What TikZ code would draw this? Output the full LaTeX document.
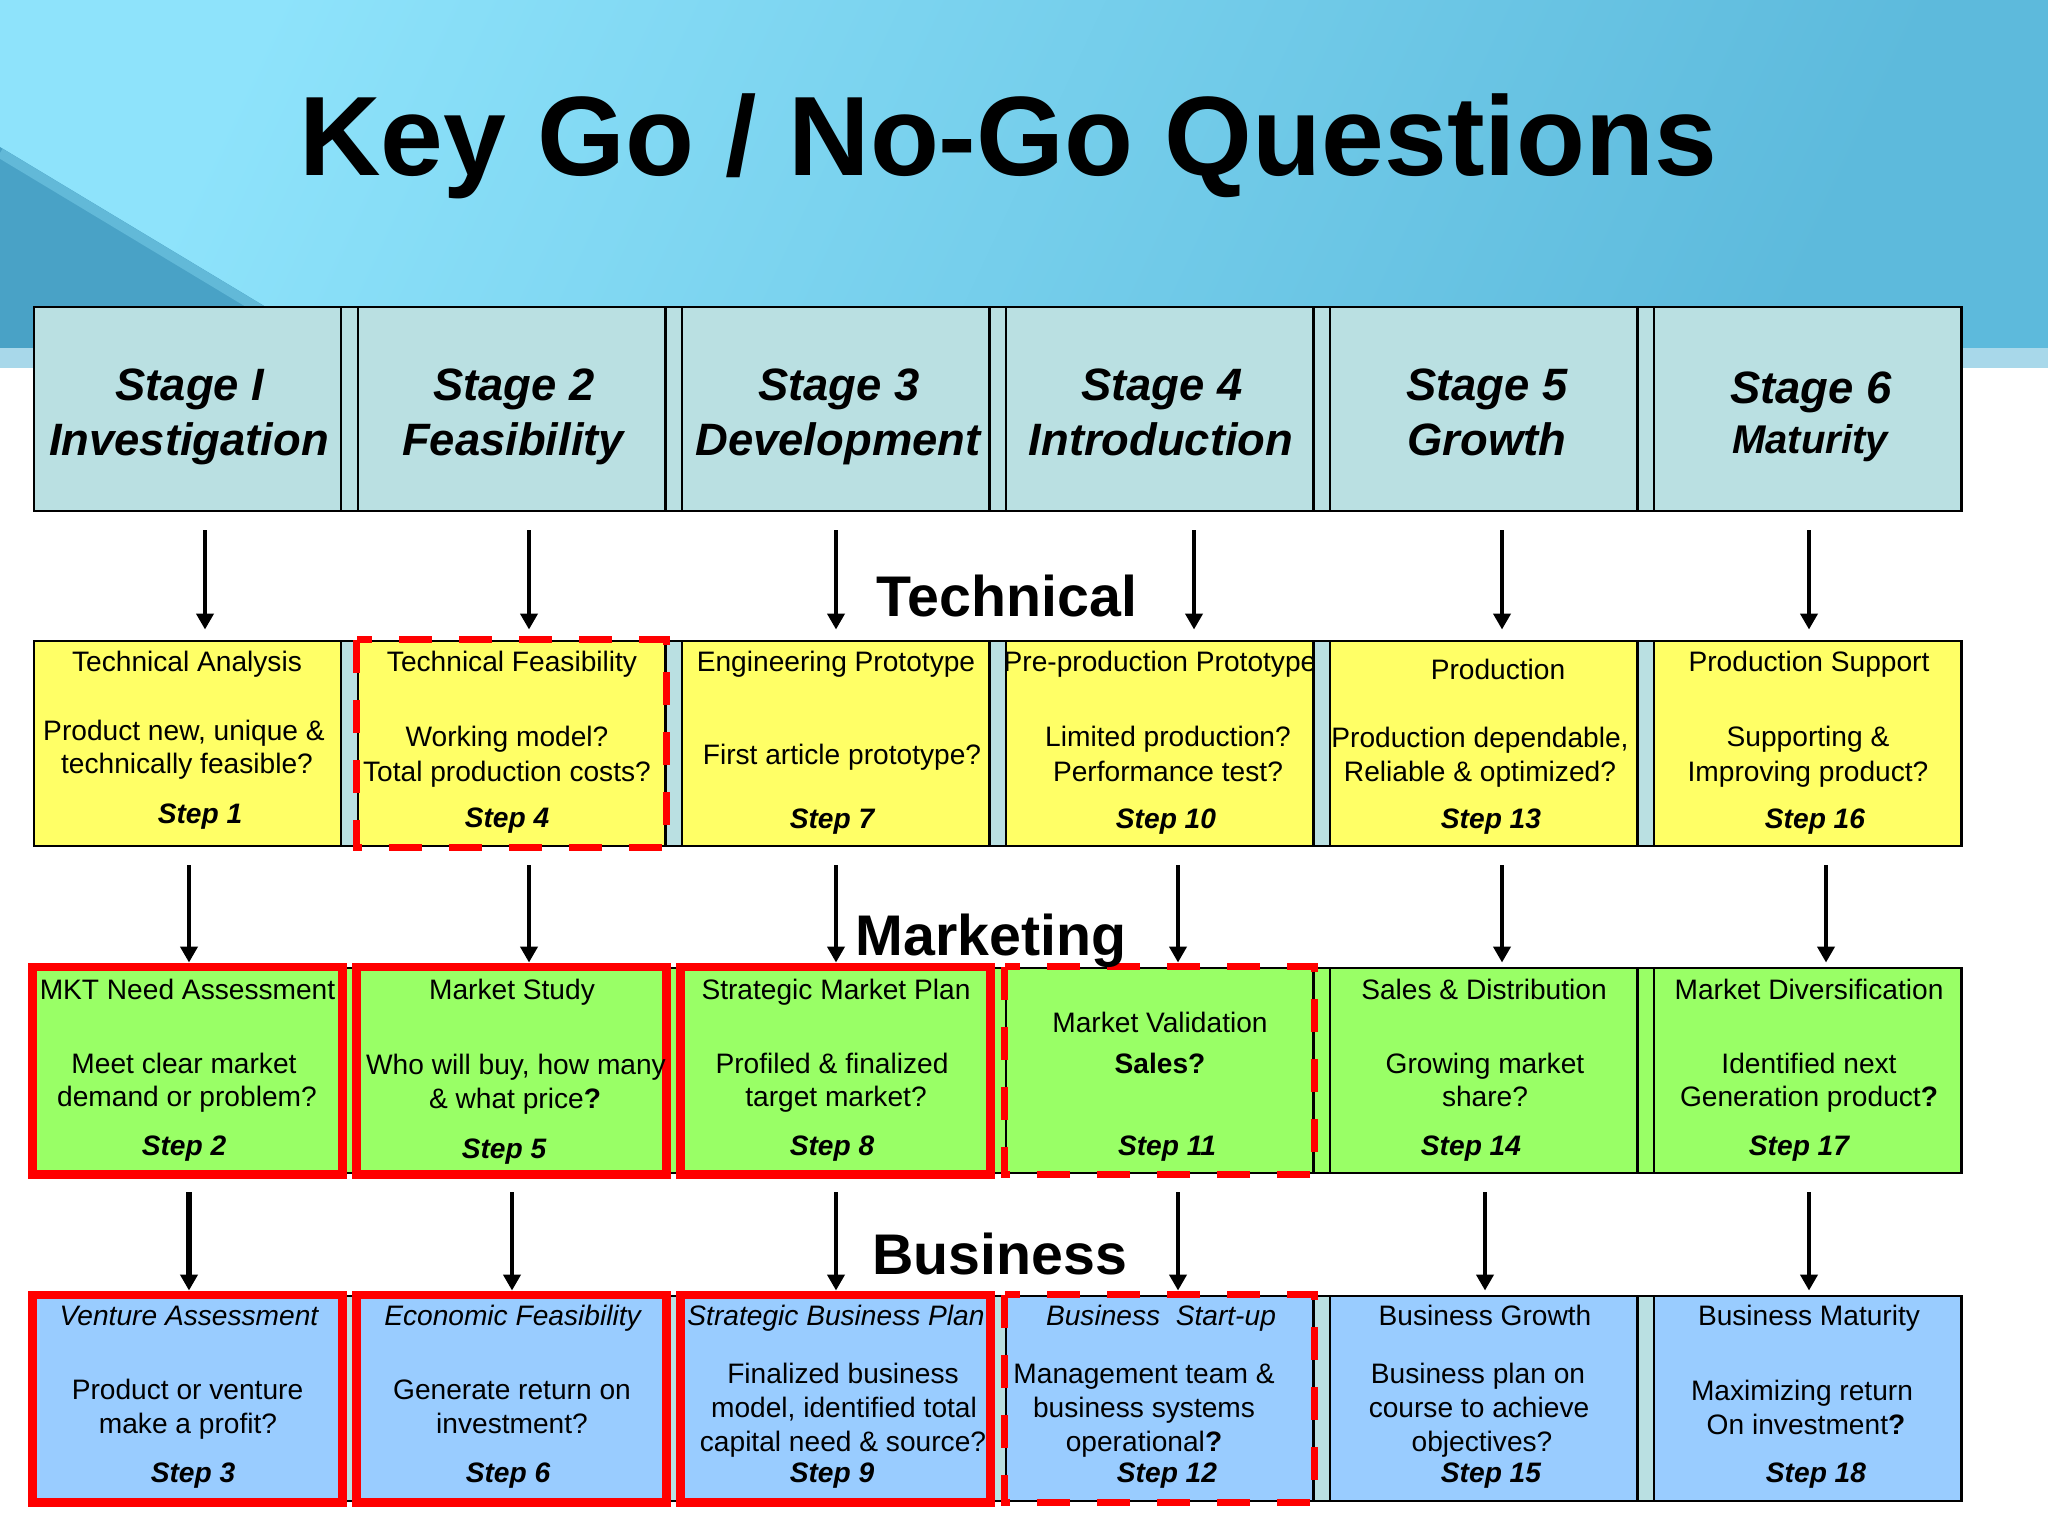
\documentclass[tikz,border=0pt]{standalone}
\usepackage{fontspec}
\setmainfont{Liberation Sans}
\usetikzlibrary{arrows.meta}

\definecolor{bglight}{RGB}{142,227,251}
\definecolor{bgdark}{RGB}{80,168,204}
\definecolor{bgright}{RGB}{93,186,220}
\definecolor{bgwedge}{RGB}{73,162,198}
\definecolor{bgedge}{RGB}{98,185,216}
\definecolor{bgband}{RGB}{168,216,234}
\definecolor{stagefill}{RGB}{186,224,226}
\definecolor{yellowfill}{RGB}{255,255,102}
\definecolor{greenfill}{RGB}{153,255,102}
\definecolor{bluefill}{RGB}{153,204,255}

\begin{document}
\begin{tikzpicture}[x=0.01cm, y=-0.01cm,
  cell/.style={draw, line width=0.8pt, minimum width=3.07cm, minimum height=2.05cm, inner sep=0pt},
  txt/.style={anchor=base, inner sep=0pt, font=\fontsize{8}{9.6}\selectfont},
  steptxt/.style={anchor=base, inner sep=0pt, font=\fontsize{8}{9.6}\selectfont\bfseries\itshape},
  stagetxt/.style={anchor=base, inner sep=0pt, font=\fontsize{12.9}{15}\selectfont\bfseries\itshape},
  lane/.style={anchor=base, inner sep=0pt, font=\fontsize{16.3}{19}\selectfont\bfseries},
  flow/.style={-{Triangle[length=0.16cm, width=0.17cm]}, line width=1.3pt},
  nogo/.style={draw=red, line width=2.3pt},
  nogodashed/.style={draw=red, line width=2.2pt, dash pattern=on 0.33cm off 0.27cm}]

\useasboundingbox (0,0) rectangle (2048,1536);
\fill[white] (0,0) rectangle (2048,1536);
\shade[left color=bglight, middle color=bgdark, right color=bgright, shading angle=65] (0,0) rectangle (2048,348);
\fill[bgwedge] (0,147) -- (334,348) -- (0,348) -- cycle;
\draw[bgedge, line width=0.1cm] (0,153) -- (324,348);
\fill[bgband] (0,348) rectangle (2048,368);

\node[anchor=base, inner sep=0pt, font=\fontsize{32.1}{38}\selectfont\bfseries] (title) at (1008,175) {Key Go / No-Go Questions};

\draw[line width=0.8pt, fill=stagefill] (34,307) rectangle (1961,511);
\draw[line width=0.8pt, fill=stagefill] (34,641) rectangle (1961,846);
\draw[line width=0.8pt, fill=greenfill] (34,968) rectangle (1961,1173);
\draw[line width=0.8pt, fill=stagefill] (34,1296) rectangle (1961,1501);

\node[cell, fill=stagefill, minimum height=2.04cm] (head a) at (187.5,409) {};
\node[cell, fill=stagefill, minimum height=2.04cm] (head b) at (511.5,409) {};
\node[cell, fill=stagefill, minimum height=2.04cm] (head c) at (835.5,409) {};
\node[cell, fill=stagefill, minimum height=2.04cm] (head d) at (1159.5,409) {};
\node[cell, fill=stagefill, minimum height=2.04cm] (head e) at (1483.5,409) {};
\node[cell, fill=stagefill, minimum height=2.04cm] (head f) at (1807.5,409) {};

\node[cell, fill=yellowfill] (tech a) at (187.5,743.5) {};
\node[cell, fill=yellowfill] (tech b) at (511.5,743.5) {};
\node[cell, fill=yellowfill] (tech c) at (835.5,743.5) {};
\node[cell, fill=yellowfill] (tech d) at (1159.5,743.5) {};
\node[cell, fill=yellowfill] (tech e) at (1483.5,743.5) {};
\node[cell, fill=yellowfill] (tech f) at (1807.5,743.5) {};

\node[cell, fill=greenfill] (mkt a) at (187.5,1070.5) {};
\node[cell, fill=greenfill] (mkt b) at (511.5,1070.5) {};
\node[cell, fill=greenfill] (mkt c) at (835.5,1070.5) {};
\node[cell, fill=greenfill] (mkt d) at (1159.5,1070.5) {};
\node[cell, fill=greenfill] (mkt e) at (1483.5,1070.5) {};
\node[cell, fill=greenfill] (mkt f) at (1807.5,1070.5) {};

\node[cell, fill=bluefill] (bus a) at (187.5,1398.5) {};
\node[cell, fill=bluefill] (bus b) at (511.5,1398.5) {};
\node[cell, fill=bluefill] (bus c) at (835.5,1398.5) {};
\node[cell, fill=bluefill] (bus d) at (1159.5,1398.5) {};
\node[cell, fill=bluefill] (bus e) at (1483.5,1398.5) {};
\node[cell, fill=bluefill] (bus f) at (1807.5,1398.5) {};

\draw[nogo] (mkt a.north west) rectangle (mkt a.south east);
\draw[nogo] (mkt b.north west) rectangle (mkt b.south east);
\draw[nogo] (mkt c.north west) rectangle (mkt c.south east);
\draw[nogo] (bus a.north west) rectangle (bus a.south east);
\draw[nogo] (bus b.north west) rectangle (bus b.south east);
\draw[nogo] (bus c.north west) rectangle (bus c.south east);
\draw[nogodashed] (tech b.north west) rectangle (tech b.south east);
\draw[nogodashed] (mkt d.north west) rectangle (mkt d.south east);
\draw[nogodashed] (bus d.north west) rectangle (bus d.south east);

\node[stagetxt] (head a top) at (190,400) {Stage I};
\node[stagetxt] (head a bottom) at (189,455) {Investigation};
\node[stagetxt] (head b top) at (514,400) {Stage 2};
\node[stagetxt] (head b bottom) at (513,455) {Feasibility};
\node[stagetxt] (head c top) at (839,400) {Stage 3};
\node[stagetxt] (head c bottom) at (838,455) {Development};
\node[stagetxt] (head d top) at (1162,400) {Stage 4};
\node[stagetxt] (head d bottom) at (1161,455) {Introduction};
\node[stagetxt] (head e top) at (1487,400) {Stage 5};
\node[stagetxt] (head e bottom) at (1487,455) {Growth};
\node[stagetxt] (head f top) at (1811,403) {Stage 6};
\node[stagetxt, font=\fontsize{11.4}{14}\selectfont\bfseries\itshape] (head f bottom) at (1810,453) {Maturity};

\node[txt] (tech a name) at (187,671) {Technical Analysis};
\node[txt] (tech a q1) at (184,740) {Product new, unique \&};
\node[txt] (tech a q2) at (187,773) {technically feasible?};
\node[steptxt] (tech a step) at (200,823) {Step 1};
\node[txt] (tech b name) at (512,671) {Technical Feasibility};
\node[txt] (tech b q1) at (507,746) {Working model?};
\node[txt] (tech b q2) at (507,781) {Total production costs?};
\node[steptxt] (tech b step) at (507,827) {Step 4};
\node[txt] (tech c name) at (836,671) {Engineering Prototype};
\node[txt] (tech c q1) at (842,764) {First article prototype?};
\node[steptxt] (tech c step) at (832,828) {Step 7};
\node[txt] (tech d name) at (1160,671) {Pre-production Prototype};
\node[txt] (tech d q1) at (1168,746) {Limited production?};
\node[txt] (tech d q2) at (1168,781) {Performance test?};
\node[steptxt] (tech d step) at (1166,828) {Step 10};
\node[txt] (tech e name) at (1498,679) {Production};
\node[txt] (tech e q1) at (1480,747) {Production dependable,};
\node[txt] (tech e q2) at (1480,781) {Reliable \& optimized?};
\node[steptxt] (tech e step) at (1491,828) {Step 13};
\node[txt] (tech f name) at (1809,671) {Production Support};
\node[txt] (tech f q1) at (1808,746) {Supporting \&};
\node[txt] (tech f q2) at (1808,781) {Improving product?};
\node[steptxt] (tech f step) at (1815,828) {Step 16};

\node[txt] (mkt a name) at (187.5,999) {MKT Need Assessment};
\node[txt] (mkt a q1) at (184,1073) {Meet clear market};
\node[txt] (mkt a q2) at (187,1106) {demand or problem?};
\node[steptxt] (mkt a step) at (184,1155) {Step 2};
\node[txt] (mkt b name) at (512,999) {Market Study};
\node[txt] (mkt b q1) at (516,1074) {Who will buy, how many};
\node[txt] (mkt b q2) at (515,1108) {\& what price\textbf{?}};
\node[steptxt] (mkt b step) at (504,1158) {Step 5};
\node[txt] (mkt c name) at (836,999) {Strategic Market Plan};
\node[txt] (mkt c q1) at (832,1073) {Profiled \& finalized};
\node[txt] (mkt c q2) at (836,1106) {target market?};
\node[steptxt] (mkt c step) at (832,1155) {Step 8};
\node[txt] (mkt d name) at (1160,1032) {Market Validation};
\node[txt] (mkt d q1) at (1160,1073) {\textbf{Sales?}};
\node[steptxt] (mkt d step) at (1167,1155) {Step 11};
\node[txt] (mkt e name) at (1484,999) {Sales \& Distribution};
\node[txt] (mkt e q1) at (1485,1073) {Growing market};
\node[txt] (mkt e q2) at (1485,1106) {share?};
\node[steptxt] (mkt e step) at (1471,1155) {Step 14};
\node[txt] (mkt f name) at (1809,999) {Market Diversification};
\node[txt] (mkt f q1) at (1809,1073) {Identified next};
\node[txt] (mkt f q2) at (1809,1106) {Generation product\textbf{?}};
\node[steptxt] (mkt f step) at (1799,1155) {Step 17};

\node[txt] (bus a name) at (189,1325) {\itshape Venture Assessment};
\node[txt] (bus a q1) at (187.5,1399) {Product or venture};
\node[txt] (bus a q2) at (188,1433) {make a profit?};
\node[steptxt] (bus a step) at (193,1482) {Step 3};
\node[txt] (bus b name) at (512.5,1325) {\itshape Economic Feasibility};
\node[txt] (bus b q1) at (512,1399) {Generate return on};
\node[txt] (bus b q2) at (512,1433) {investment?};
\node[steptxt] (bus b step) at (508,1482) {Step 6};
\node[txt] (bus c name) at (836,1325) {\itshape Strategic Business Plan};
\node[txt] (bus c q1) at (843,1383) {Finalized business};
\node[txt] (bus c q2) at (844,1417) {model, identified total};
\node[txt] (bus c q3) at (843,1451) {capital need \& source?};
\node[steptxt] (bus c step) at (832,1482) {Step 9};
\node[txt] (bus d name) at (1161,1325) {\itshape Business\ \ Start-up};
\node[txt] (bus d q1) at (1144,1383) {Management team \&};
\node[txt] (bus d q2) at (1144,1417) {business systems};
\node[txt] (bus d q3) at (1144,1451) {operational\textbf{?}};
\node[steptxt] (bus d step) at (1167,1482) {Step 12};
\node[txt] (bus e name) at (1485,1325) {Business Growth};
\node[txt] (bus e q1) at (1478,1383) {Business plan on};
\node[txt] (bus e q2) at (1479,1417) {course to achieve};
\node[txt] (bus e q3) at (1482,1451) {objectives?};
\node[steptxt] (bus e step) at (1491,1482) {Step 15};
\node[txt] (bus f name) at (1809,1325) {Business Maturity};
\node[txt] (bus f q1) at (1802,1400) {Maximizing return};
\node[txt] (bus f q2) at (1806,1434) {On investment\textbf{?}};
\node[steptxt] (bus f step) at (1816,1482) {Step 18};

\node[lane] (technical) at (1007,616) {Technical};
\node[lane] (marketing) at (991,955) {Marketing};
\node[lane] (business) at (1000,1274) {Business};

\draw[flow] ([xshift=0.175cm, yshift=-0.18cm]head a.south) -- ([xshift=0.175cm, yshift=0.1cm]tech a.north);
\draw[flow] ([xshift=0.175cm, yshift=-0.18cm]head b.south) -- ([xshift=0.175cm, yshift=0.1cm]tech b.north);
\draw[flow] ([xshift=0.005cm, yshift=-0.18cm]head c.south) -- ([xshift=0.005cm, yshift=0.1cm]tech c.north);
\draw[flow] ([xshift=0.345cm, yshift=-0.18cm]head d.south) -- ([xshift=0.345cm, yshift=0.1cm]tech d.north);
\draw[flow] ([xshift=0.185cm, yshift=-0.18cm]head e.south) -- ([xshift=0.185cm, yshift=0.1cm]tech e.north);
\draw[flow] ([xshift=0.015cm, yshift=-0.18cm]head f.south) -- ([xshift=0.015cm, yshift=0.1cm]tech f.north);

\draw[flow] ([xshift=0.015cm, yshift=-0.18cm]tech a.south) -- ([xshift=0.015cm, yshift=0.04cm]mkt a.north);
\draw[flow] ([xshift=0.175cm, yshift=-0.18cm]tech b.south) -- ([xshift=0.175cm, yshift=0.04cm]mkt b.north);
\draw[flow] ([xshift=0.005cm, yshift=-0.18cm]tech c.south) -- ([xshift=0.005cm, yshift=0.04cm]mkt c.north);
\draw[flow] ([xshift=0.185cm, yshift=-0.18cm]tech d.south) -- ([xshift=0.185cm, yshift=0.04cm]mkt d.north);
\draw[flow] ([xshift=0.185cm, yshift=-0.18cm]tech e.south) -- ([xshift=0.185cm, yshift=0.04cm]mkt e.north);
\draw[flow] ([xshift=0.185cm, yshift=-0.18cm]tech f.south) -- ([xshift=0.185cm, yshift=0.04cm]mkt f.north);

\draw[flow, line width=1.9pt] ([xshift=0.015cm, yshift=-0.18cm]mkt a.south) -- ([xshift=0.015cm, yshift=0.04cm]bus a.north);
\draw[flow] ([xshift=0.005cm, yshift=-0.18cm]mkt b.south) -- ([xshift=0.005cm, yshift=0.04cm]bus b.north);
\draw[flow] ([xshift=0.005cm, yshift=-0.18cm]mkt c.south) -- ([xshift=0.005cm, yshift=0.04cm]bus c.north);
\draw[flow] ([xshift=0.185cm, yshift=-0.18cm]mkt d.south) -- ([xshift=0.185cm, yshift=0.04cm]bus d.north);
\draw[flow] ([xshift=0.015cm, yshift=-0.18cm]mkt e.south) -- ([xshift=0.015cm, yshift=0.04cm]bus e.north);
\draw[flow] ([xshift=0.015cm, yshift=-0.18cm]mkt f.south) -- ([xshift=0.015cm, yshift=0.04cm]bus f.north);

\end{tikzpicture}
\end{document}
